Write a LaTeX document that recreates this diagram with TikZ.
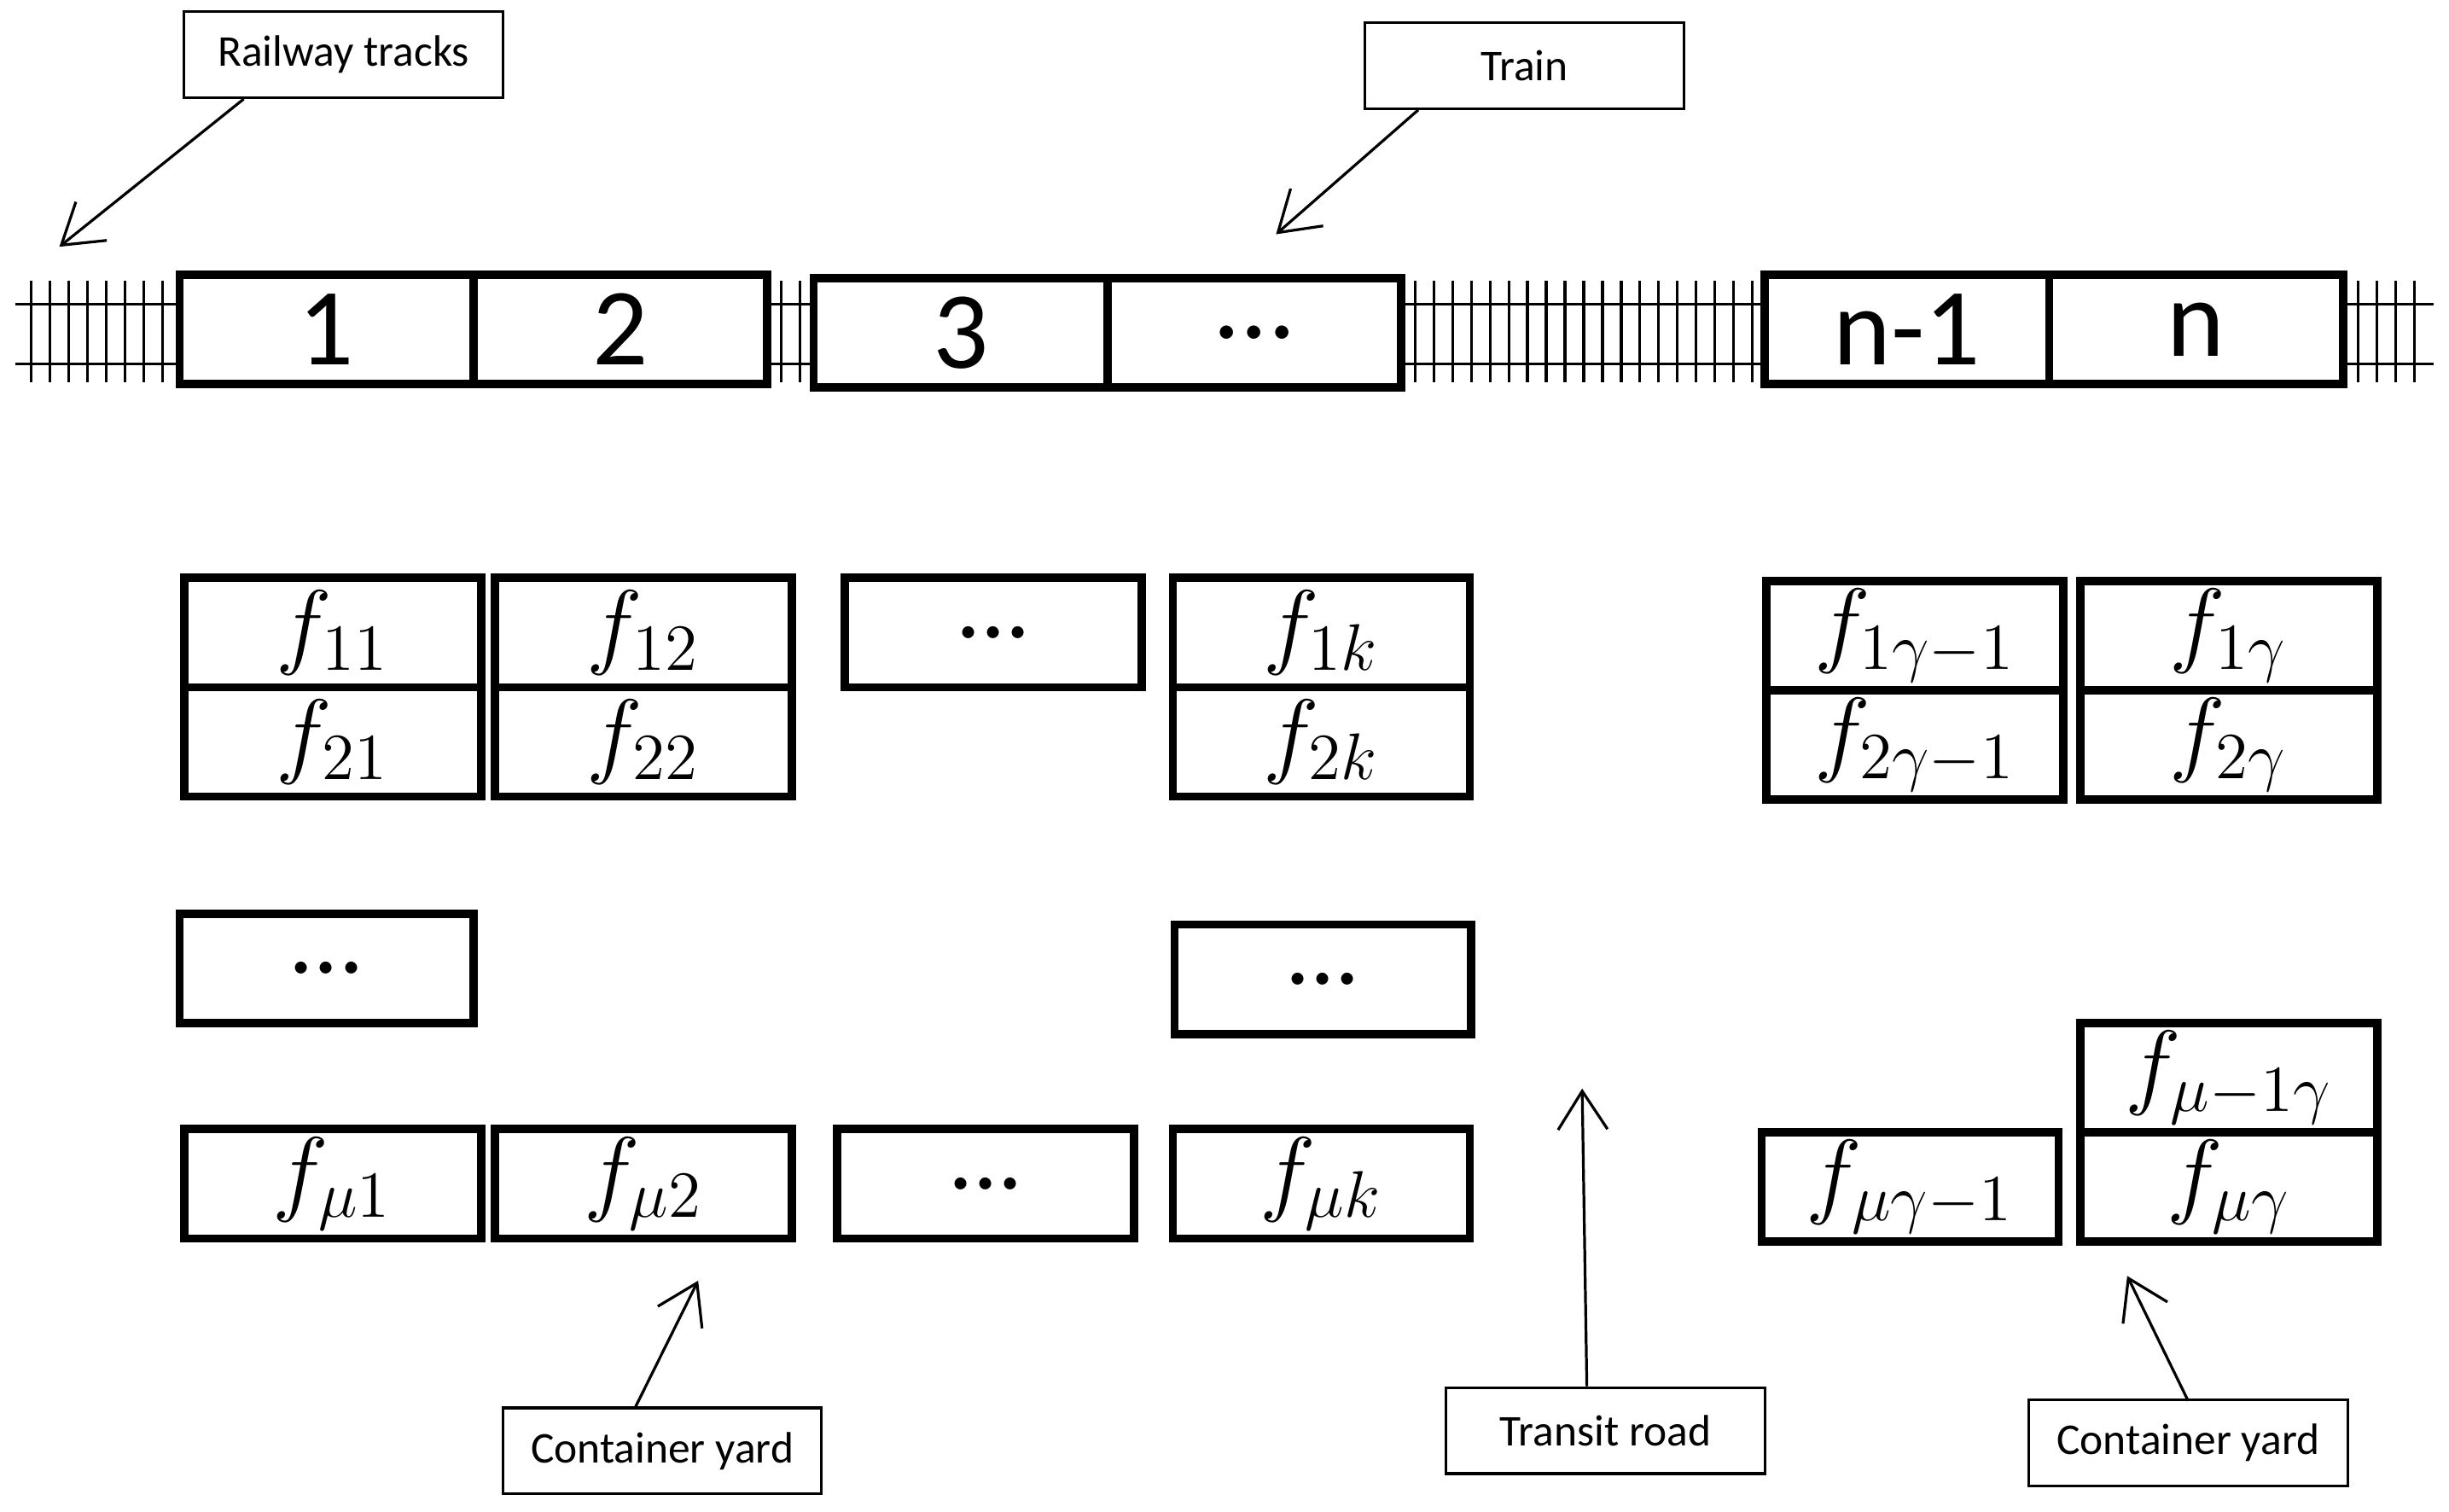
\documentclass[tikz,border=0pt]{standalone}
\usepackage{fontspec}
\setmainfont{Carlito}
\usetikzlibrary{positioning,arrows.meta}
\tikzset{
  car/.style={draw, line width=1.5pt, minimum width=1.88cm, minimum height=0.70cm,
    inner sep=0pt, outer sep=0pt, font=\fontsize{20}{22}\selectfont},
  slot/.style={draw, line width=1.5pt, minimum width=1.90cm, minimum height=0.70cm,
    inner sep=0pt, outer sep=0pt, font=\fontsize{18}{20}\selectfont},
  tag/.style={draw, line width=0.5pt, minimum width=2.04cm, minimum height=0.55cm,
    font=\fontsize{8}{9}\selectfont},
  pointer/.style={line width=0.5pt, -{Straight Barb[length=7pt,width=9pt]}},
  rail/.style={line width=0.5pt}
}
\begin{document}
\begin{tikzpicture}[x=0.01cm, y=-0.01cm]
  \useasboundingbox (0,0) rectangle (1568,968);
  % railway
  \foreach \a/\b in {10/115, 493/521, 899/1130, 1501/1558} {
    \draw[rail] (\a,195) -- (\b,195) (\a,233) -- (\b,233);
  }
  \foreach \x in {20,32,...,110} \draw[rail] (\x,180) -- (\x,245);
  \foreach \x in {500,512} \draw[rail] (\x,180) -- (\x,245);
  \foreach \x in {906,918,...,1126} \draw[rail] (\x,180) -- (\x,245);
  \foreach \x in {1510,1522,...,1556} \draw[rail] (\x,180) -- (\x,245);

  % train
  \node[car] (c1) at (209,211) {1};
  \node[car, right=0pt of c1] (c2) {2};
  \node[car] (c3) at (615,213) {3};
  \node[car, right=0pt of c3] (c4) {...};
  \node[car, minimum width=1.82cm] (cn1) at (1221,211) {n-1};
  \node[car, right=0pt of cn1] (cn) {n};

  % container yard
  \node[slot] (f11) at (213,405) {$f_{11}$};
  \node[slot, below=0pt of f11] (f21) {$f_{21}$};
  \node[slot] (f12) at (412,405) {$f_{12}$};
  \node[slot, below=0pt of f12] (f22) {$f_{22}$};
  \node[slot] (d1) at (636,405) {...};
  \node[slot] (f1k) at (846,405) {$f_{1k}$};
  \node[slot, below=0pt of f1k] (f2k) {$f_{2k}$};
  \node[slot] (f1g1) at (1226,407) {$f_{1\gamma-1}$};
  \node[slot, below=0pt of f1g1] (f2g1) {$f_{2\gamma-1}$};
  \node[slot] (f1g) at (1427,407) {$f_{1\gamma}$};
  \node[slot, below=0pt of f1g] (f2g) {$f_{2\gamma}$};

  \node[slot, minimum width=1.88cm] (d2) at (209,620) {...};
  \node[slot] (d3) at (847,627) {...};

  \node[slot] (fu1) at (213,758) {$f_{\mu1}$};
  \node[slot] (fu2) at (412,758) {$f_{\mu2}$};
  \node[slot] (d4) at (631,758) {...};
  \node[slot] (fuk) at (846,758) {$f_{\mu k}$};
  \node[slot] (fug1) at (1223,760) {$f_{\mu\gamma-1}$};
  \node[slot] (fug) at (1427,760) {$f_{\mu\gamma}$};
  \node[slot, above=0pt of fug] (fu1g) {$f_{\mu-1\gamma}$};

  % labels
  \node[tag] (tracks) at (220,35) {Railway tracks};
  \node[tag] (train) at (976,42) {Train};
  \node[tag] (yard1) at (424,929) {Container yard};
  \node[tag] (road) at (1028,916) {Transit road};
  \node[tag] (yard2) at (1401,924) {Container yard};
  \coordinate (tracksend) at (38,158);
  \coordinate (trainend) at (817,150);
  \coordinate (yard1end) at (447,820);
  \coordinate (roadend) at (1013,697);
  \coordinate (yard2end) at (1362,817);
  \draw[pointer] (tracks.south west) ++(39,0) -- (tracksend);
  \draw[pointer] (train.south west) ++(35,0) -- (trainend);
  \draw[pointer] (yard1.north) ++(-17,0) -- (yard1end);
  \draw[pointer] (road.north) ++(-12,0) -- (roadend);
  \draw[pointer] (yard2) ++(0,-27) -- (yard2end);
\end{tikzpicture}
\end{document}
